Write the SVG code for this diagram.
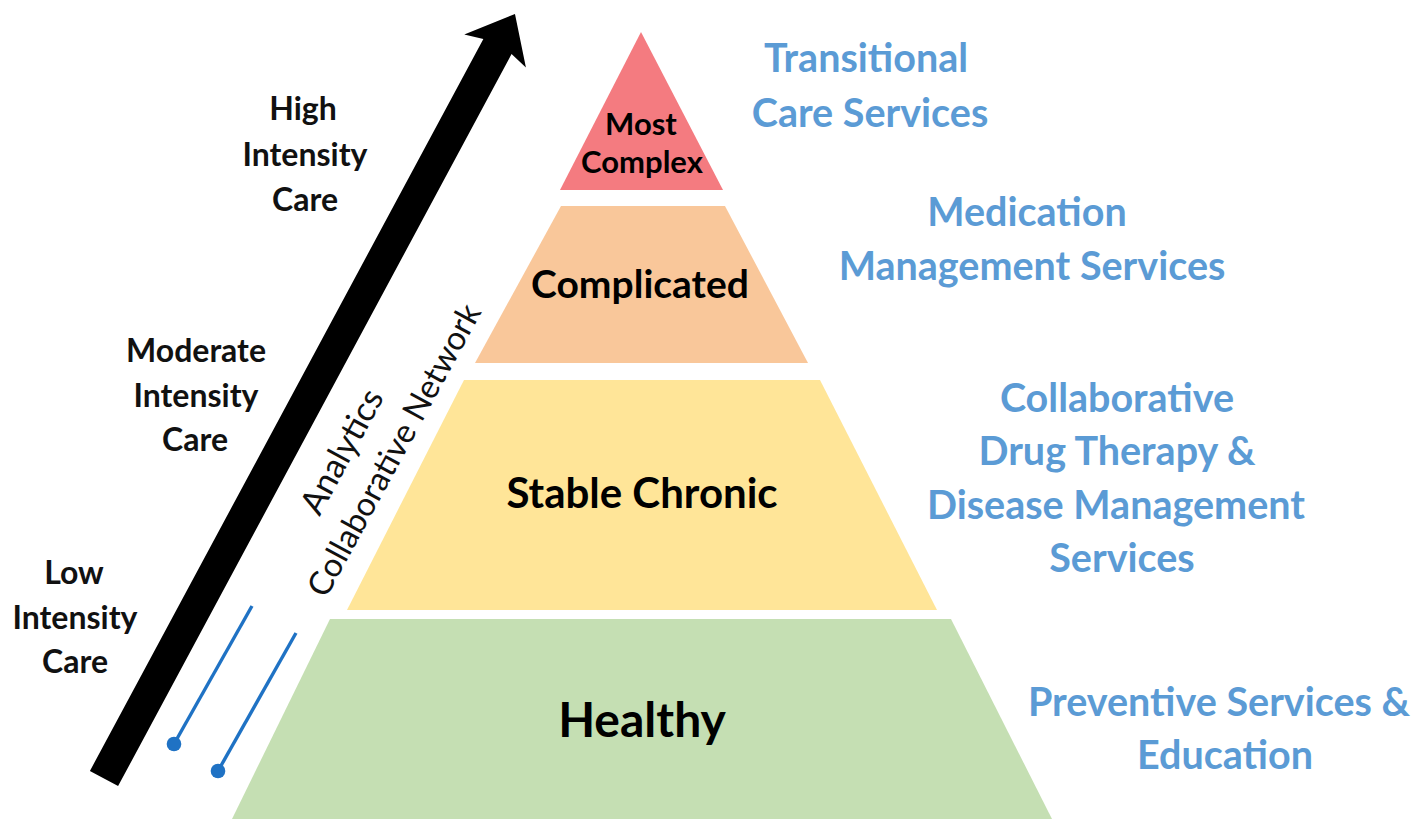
<svg xmlns="http://www.w3.org/2000/svg" width="1414" height="819" viewBox="0 0 1414 819">
<style>
.lbl{font-family:Lato,"Liberation Sans",sans-serif;font-weight:bold;fill:#000;text-anchor:middle}
.side{font-family:Lato,"Liberation Sans",sans-serif;font-weight:bold;font-size:32px;fill:#111;text-anchor:middle}
.svc{font-family:Lato,"Liberation Sans",sans-serif;font-weight:bold;font-size:39.5px;fill:#5B9BD5;text-anchor:middle}
.rot{font-family:Lato,"Liberation Sans",sans-serif;fill:#111;text-anchor:middle}
.blue{stroke:#1F72C4;stroke-width:3.4;fill:none}
.dot{fill:#1F72C4}
</style>
<rect width="1414" height="819" fill="#fff"/>

<g id="tier-most-complex">
<polygon points="641,32 723,190 560,190" fill="#F47B80"/>
<text class="lbl" x="641" y="135" font-size="31">Most</text>
<text class="lbl" x="642" y="173" font-size="31">Complex</text>
</g>
<g id="tier-complicated">
<polygon points="561,206 725,206 808,363 475,363" fill="#F9C79A"/>
<text class="lbl" x="640" y="298" font-size="39">Complicated</text>
</g>
<g id="tier-stable-chronic">
<polygon points="464,380 820,380 937,610 347,610" fill="#FFE598"/>
<text class="lbl" x="642" y="508" font-size="42">Stable Chronic</text>
</g>
<g id="tier-healthy">
<polygon points="330,619 951,619 1052,819 232,819" fill="#C5DFB3"/>
<text class="lbl" x="642" y="737" font-size="48">Healthy</text>
</g>

<g id="arrow">
<polygon transform="translate(104,778.5) rotate(-61.74)" points="0,-16 831,-16 826,-35 868,0 826,35 831,16 0,16" fill="#000"/>
</g>

<g id="connectors">
<line class="blue" x1="252" y1="606" x2="174" y2="744"/>
<circle class="dot" cx="174" cy="744" r="7.3"/>
<line class="blue" x1="296" y1="633" x2="218" y2="771"/>
<circle class="dot" cx="218" cy="771" r="7.3"/>
</g>

<g id="label-high">
<text class="side" x="303" y="120">High</text>
<text class="side" x="305" y="166">Intensity</text>
<text class="side" x="305" y="211">Care</text>
</g>
<g id="label-moderate">
<text class="side" x="196" y="362">Moderate</text>
<text class="side" x="196" y="407">Intensity</text>
<text class="side" x="195" y="451">Care</text>
</g>
<g id="label-low">
<text class="side" x="74" y="584">Low</text>
<text class="side" x="75" y="629">Intensity</text>
<text class="side" x="75" y="673">Care</text>
</g>

<g id="label-network">
<text class="rot" font-size="34" transform="translate(352,457) rotate(-61.5)">Analytics</text>
<text class="rot" font-size="33" transform="translate(404,455.5) rotate(-61.5)">Collaborative Network</text>
</g>

<g id="svc-transitional">
<text class="svc" x="866" y="72">Transitional</text>
<text class="svc" x="870" y="127">Care Services</text>
</g>
<g id="svc-medication">
<text class="svc" x="1027" y="226">Medication</text>
<text class="svc" x="1032" y="280">Management Services</text>
</g>
<g id="svc-collaborative">
<text class="svc" x="1117" y="412">Collaborative</text>
<text class="svc" x="1117" y="465">Drug Therapy &amp;</text>
<text class="svc" x="1116" y="519">Disease Management</text>
<text class="svc" x="1122" y="572">Services</text>
</g>
<g id="svc-preventive">
<text class="svc" x="1219" y="716">Preventive Services &amp;</text>
<text class="svc" x="1225" y="769">Education</text>
</g>
</svg>
